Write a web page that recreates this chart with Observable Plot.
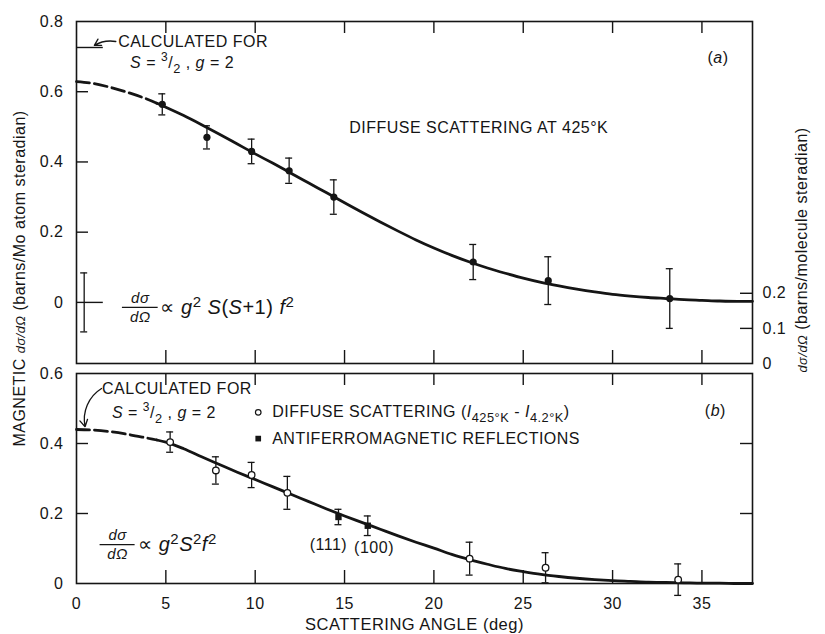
<!DOCTYPE html>
<html><head><meta charset="utf-8">
<script src="https://cdn.jsdelivr.net/npm/d3@7"></script>
<script src="https://cdn.jsdelivr.net/npm/@observablehq/plot@0.6"></script>
<style>
body{margin:0;background:#fff;}
#wrap{position:relative;width:825px;height:634px;background:#fff;}
#wrap svg{position:absolute;left:0;overflow:visible;}
#wrap svg text{letter-spacing:0.5px;}
</style></head><body><div id="wrap"></div>
<script>
// ---------- tick values / labels ----------
const xTicks = [5, 10, 15, 20, 25, 30, 35];
const xTickLabels = [0, 5, 10, 15, 20, 25, 30, 35];
const topYTickLabels = [0, 0.2, 0.4, 0.6, 0.8];
const topLeftTicks = [0.2, 0.4, 0.6];
const rightTickLabels = [0, 0.1, 0.2];
const botYTickLabels = [0, 0.2, 0.4, 0.6];
const botLeftTicks = [0.2, 0.4];
const botRightTicks = [0.2, 0.4];

// ---------- panel (a): diffuse scattering at 425 K ----------
const topAngle = [4.8, 7.3, 9.8, 11.9, 14.4, 22.2, 26.4, 33.2];
const topValue = [0.564, 0.47, 0.43, 0.375, 0.30, 0.115, 0.062, 0.011];
const topErr   = [0.030, 0.033, 0.035, 0.036, 0.049, 0.050, 0.068, 0.085];

// ---------- panel (b) ----------
const diffAngle = [5.24, 7.8, 9.8, 11.8, 22.0, 26.25, 33.67];
const diffValue = [0.404, 0.323, 0.31, 0.259, 0.071, 0.045, 0.011];
const diffErr   = [0.029, 0.039, 0.036, 0.047, 0.047, 0.043, 0.045];
const afmAngle = [14.66, 16.3];
const afmValue = [0.19, 0.165];
const afmErr   = [0.022, 0.028];

// ---------- calculated form-factor curves ----------
const curveAngle = [0,1,2,3,4,4.5,5,6,7,8,9,10,11,12,13,14,15,16,17,18,19,20,21,22,23,24,25,26,27,28,29,30,31,32,33,34,35,36,37,37.83];
const curveA = [0.629,0.623,0.611,0.596,0.578,0.567,0.556,0.532,0.506,0.479,0.451,0.423,0.396,0.368,0.34,0.312,0.284,0.256,0.229,0.203,0.178,0.155,0.134,0.115,0.098,0.083,0.069,0.057,0.047,0.038,0.03,0.023,0.018,0.014,0.011,0.008,0.006,0.004,0.003,0.003];
const curveB = [0.44,0.438,0.433,0.425,0.415,0.41,0.404,0.385,0.362,0.34,0.318,0.297,0.276,0.255,0.234,0.213,0.193,0.174,0.155,0.136,0.118,0.101,0.083,0.068,0.055,0.043,0.034,0.026,0.02,0.015,0.011,0.008,0.006,0.004,0.003,0.002,0.001,0.001,0,0];
const dashedUntil = 4.5;

// ---------- annotations ----------
const calcA = {value: 0.726, x2: 1.5};
const refBar = {x: 0.43, y: 0, e: 0.084, x2: 1.5};
const arrowA = {x1: 2.2, y1: 0.743, x2: 1.0, y2: 0.732};
const arrowB = {x1: 1.4, y1: 0.557, x2: 0.48, y2: 0.448};
const topNotesStart = [
  {x: 2.33, y: 0.742, text: "CALCULATED FOR"},
  {x: 3.0, y: 0.683, text: "{i:S} = {sup:3}/{sub:2} , {i:g} = 2"}
];
const topNotesEnd = [{x: 29.76, y: 0.498, text: "DIFFUSE SCATTERING AT 425°K"}];
const topNotesMid = [{x: 35.9, y: 0.697, text: "({i:a})"}];
const topFormula = {x: 3.57, y: -0.014, half: 1.0, rest: "∝ {i:g}{sup:2} {i:S}({i:S}+1) {i:f}{sup:2}", restX: 4.7};
const botNotesStart = [
  {x: 1.43, y: 0.557, text: "CALCULATED FOR"},
  {x: 1.98, y: 0.487, text: "{i:S} = {sup:3}/{sub:2} , {i:g} = 2"},
  {x: 10.95, y: 0.489, text: "DIFFUSE SCATTERING ({i:I}{sub:425°K} - {i:I}{sub:4.2°K})"},
  {x: 10.95, y: 0.414, text: "ANTIFERROMAGNETIC REFLECTIONS"}
];
const botNotesMid = [
  {x: 35.75, y: 0.494, text: "({i:b})"},
  {x: 14.1, y: 0.109, text: "(111)"},
  {x: 16.65, y: 0.103, text: "(100)"}
];
const botFormula = {x: 2.3, y: 0.111, half: 0.98, rest: "∝ {i:g}{sup:2}{i:S}{sup:2}{i:f}{sup:2}", restX: 3.45};
const legendOpen = {x: 10.17, y: 0.489};
const legendSquare = {x: 10.17, y: 0.414};
const leftLabel = "MAGNETIC {f:dσ/dΩ} (barns/Mo atom steradian)";
const rightLabel = "{f:dσ/dΩ} (barns/molecule steradian)";
const xLabel = "SCATTERING ANGLE (deg)";

// ---------- layout ----------
const W = 825, L = 76, R = 73, X_MAX = 37.83;
const TOP_H = 366, TOP_MT = 21, TOP_MB = 3, TOP_Y_MIN = -0.174;
const BOT_H = 268, BOT_MT = 7, BOT_MB = 51;
const FONT = '"Liberation Sans", Arial, sans-serif';
const INK = "#151515";
const PW = W - L - R;
const fmt = d => { const v = Math.round(d * 10) / 10; return v === 0 ? "0" : v.toFixed(1); };

function errMarks(pts) {
  return [
    Plot.ruleX(pts, {x: "x", y1: d => d.y - d.e, y2: d => d.y + d.e, stroke: INK, strokeWidth: 1.3}),
    Plot.ruleY(pts, {y: d => d.y + d.e, x1: "x", x2: "x", insetLeft: -3.5, insetRight: -3.5, stroke: INK, strokeWidth: 1.3}),
    Plot.ruleY(pts, {y: d => d.y - d.e, x1: "x", x2: "x", insetLeft: -3.5, insetRight: -3.5, stroke: INK, strokeWidth: 1.3})
  ];
}
function curveMarks(vals) {
  const c = curveAngle.map((x, i) => ({x, y: vals[i]}));
  return [
    Plot.line(c.filter(d => d.x <= dashedUntil), {x: "x", y: "y", stroke: INK, strokeWidth: 2.8, strokeDasharray: "13,5", curve: "monotone-x"}),
    Plot.line(c.filter(d => d.x >= dashedUntil), {x: "x", y: "y", stroke: INK, strokeWidth: 2.8, curve: "monotone-x"})
  ];
}
function fractionMarks(f, size) {
  return [
    Plot.text([f], {x: "x", y: "y", text: () => "dσ", dy: -9, fontSize: size, fontStyle: "italic", fill: INK}),
    Plot.text([f], {x: "x", y: "y", text: () => "dΩ", dy: 10, fontSize: size, fontStyle: "italic", fill: INK}),
    Plot.ruleY([f], {y: "y", x1: d => d.x - d.half, x2: d => d.x + d.half, stroke: INK, strokeWidth: 1.2}),
    Plot.text([f], {x: "restX", y: "y", text: "rest", textAnchor: "start", fontSize: 20, fill: INK})
  ];
}
function tickMarks(ph, leftTicks, rightTicks) {
  return [
    Plot.tickX(xTicks, {x: d => d, insetTop: ph - 13, stroke: INK, strokeWidth: 1.4}),
    Plot.tickX(xTicks, {x: d => d, insetBottom: ph - 12, stroke: INK, strokeWidth: 1.4}),
    Plot.tickY(leftTicks, {y: d => d, insetRight: PW - 12, stroke: INK, strokeWidth: 1.4}),
    Plot.tickY(rightTicks, {y: d => d, insetLeft: PW - 12, stroke: INK, strokeWidth: 1.4})
  ];
}

// rich text: {i:x} italic, {sub:x}, {sup:x}, {f:x} small italic
function esc(s) { return s.replace(/&/g, "&amp;").replace(/</g, "&lt;"); }
function rich(svg) {
  svg.querySelectorAll("text").forEach(t => {
    const s = t.textContent;
    if (!s.includes("{")) return;
    let html = "", shift = 0, m;
    const re = /\{(i|sub|sup|f):([^}]*)\}|([^{]+)/g;
    while ((m = re.exec(s))) {
      if (m[3] !== undefined) { html += `<tspan dy="${-shift}">${esc(m[3])}</tspan>`; shift = 0; continue; }
      const k = m[1], v = esc(m[2]);
      if (k === "i") { html += `<tspan dy="${-shift}" font-style="italic">${v}</tspan>`; shift = 0; }
      else if (k === "f") { html += `<tspan dy="${-shift}" font-style="italic" font-size="80%">${v}</tspan>`; shift = 0; }
      else if (k === "sub") { html += `<tspan dy="${5 - shift}" font-size="80%">${v}</tspan>`; shift = 5; }
      else if (k === "sup") { html += `<tspan dy="${-7 - shift}" font-size="75%">${v}</tspan>`; shift = -7; }
    }
    t.innerHTML = html;
  });
}

const common = {
  width: W, marginLeft: L, marginRight: R,
  style: {fontFamily: FONT, fontSize: "16px", color: INK, background: "transparent", overflow: "visible"}
};

// ---------- top panel ----------
const topPts = topAngle.map((x, i) => ({x, y: topValue[i], e: topErr[i]}));
const TOP_PH = TOP_H - TOP_MT - TOP_MB;
const topPlot = Plot.plot({
  ...common, height: TOP_H, marginTop: TOP_MT, marginBottom: TOP_MB,
  x: {domain: [0, X_MAX], axis: null, label: null},
  y: {domain: [TOP_Y_MIN, 0.8], label: null},
  marks: [
    Plot.frame({stroke: INK, strokeWidth: 1.6}),
    ...tickMarks(TOP_PH, topLeftTicks, rightTickLabels.slice(1).map(r => r + TOP_Y_MIN)),
    Plot.axisY(topYTickLabels, {anchor: "left", tickSize: 0, tickPadding: 13, fontSize: 16, tickFormat: fmt, label: null}),
    Plot.axisY(rightTickLabels.map(r => r + TOP_Y_MIN), {anchor: "right", tickSize: 0, tickPadding: 10, fontSize: 16, tickFormat: d => fmt(d - TOP_Y_MIN), label: null}),
    Plot.ruleY([calcA], {y: "value", x1: 0, x2: "x2", stroke: INK, strokeWidth: 1.4}),
    Plot.ruleY([refBar], {y: "y", x1: 0, x2: "x2", stroke: INK, strokeWidth: 1.4}),
    ...errMarks([refBar]),
    ...curveMarks(curveA),
    ...errMarks(topPts),
    Plot.dot(topPts, {x: "x", y: "y", r: 3.6, fill: INK}),
    Plot.arrow([arrowA], {x1: "x1", y1: "y1", x2: "x2", y2: "y2", bend: -20, headLength: 9, stroke: INK, strokeWidth: 1.3}),
    Plot.text(topNotesStart, {x: "x", y: "y", text: "text", textAnchor: "start", fontSize: 16, fill: INK}),
    Plot.text(topNotesEnd, {x: "x", y: "y", text: "text", textAnchor: "end", fontSize: 16, fill: INK}),
    Plot.text(topNotesMid, {x: "x", y: "y", text: "text", fontSize: 16, fill: INK}),
    ...fractionMarks(topFormula, 15),
    Plot.text([leftLabel], {frameAnchor: "left", dx: -57, dy: 86, rotate: -90, textAnchor: "middle", lineAnchor: "middle", fontSize: 16, fill: INK}),
    Plot.text([rightLabel], {frameAnchor: "bottom-right", dx: 49, dy: 9, rotate: -90, textAnchor: "start", lineAnchor: "middle", fontSize: 16, fill: INK})
  ]
});

// ---------- bottom panel ----------
const diffPts = diffAngle.map((x, i) => ({x, y: diffValue[i], e: diffErr[i]}));
const afmPts = afmAngle.map((x, i) => ({x, y: afmValue[i], e: afmErr[i]}));
const BOT_PH = BOT_H - BOT_MT - BOT_MB;
const botPlot = Plot.plot({
  ...common, height: BOT_H, marginTop: BOT_MT, marginBottom: BOT_MB,
  x: {domain: [0, X_MAX], label: null},
  y: {domain: [0, 0.6], label: null},
  marks: [
    Plot.frame({stroke: INK, strokeWidth: 1.6}),
    ...tickMarks(BOT_PH, botLeftTicks, botRightTicks),
    Plot.axisY(botYTickLabels, {anchor: "left", tickSize: 0, tickPadding: 13, fontSize: 16, tickFormat: fmt, label: null}),
    Plot.axisX(xTickLabels, {anchor: "bottom", tickSize: 0, tickPadding: 14, fontSize: 16, label: null}),
    Plot.text([xLabel], {frameAnchor: "bottom", dy: 41, lineAnchor: "middle", fontSize: 16.5, fill: INK}),
    ...curveMarks(curveB),
    ...errMarks(diffPts),
    ...errMarks(afmPts),
    Plot.dot(diffPts, {x: "x", y: "y", r: 3.3, fill: "white", stroke: INK, strokeWidth: 1.3}),
    Plot.dot(afmPts, {x: "x", y: "y", r: 3.6, symbol: "square", fill: INK}),
    Plot.dot([legendOpen], {x: "x", y: "y", r: 2.8, fill: "white", stroke: INK, strokeWidth: 1.2}),
    Plot.dot([legendSquare], {x: "x", y: "y", r: 3.2, symbol: "square", fill: INK}),
    Plot.arrow([arrowB], {x1: "x1", y1: "y1", x2: "x2", y2: "y2", bend: -35, headLength: 9, stroke: INK, strokeWidth: 1.3}),
    Plot.text(botNotesStart, {x: "x", y: "y", text: "text", textAnchor: "start", fontSize: 16, fill: INK}),
    Plot.text(botNotesMid, {x: "x", y: "y", text: "text", fontSize: 16, fill: INK}),
    ...fractionMarks(botFormula, 15)
  ]
});

rich(topPlot); rich(botPlot);
topPlot.style.top = "0px";
botPlot.style.top = TOP_H + "px";
const wrap = document.getElementById("wrap");
wrap.appendChild(topPlot);
wrap.appendChild(botPlot);
</script>
</body></html>
